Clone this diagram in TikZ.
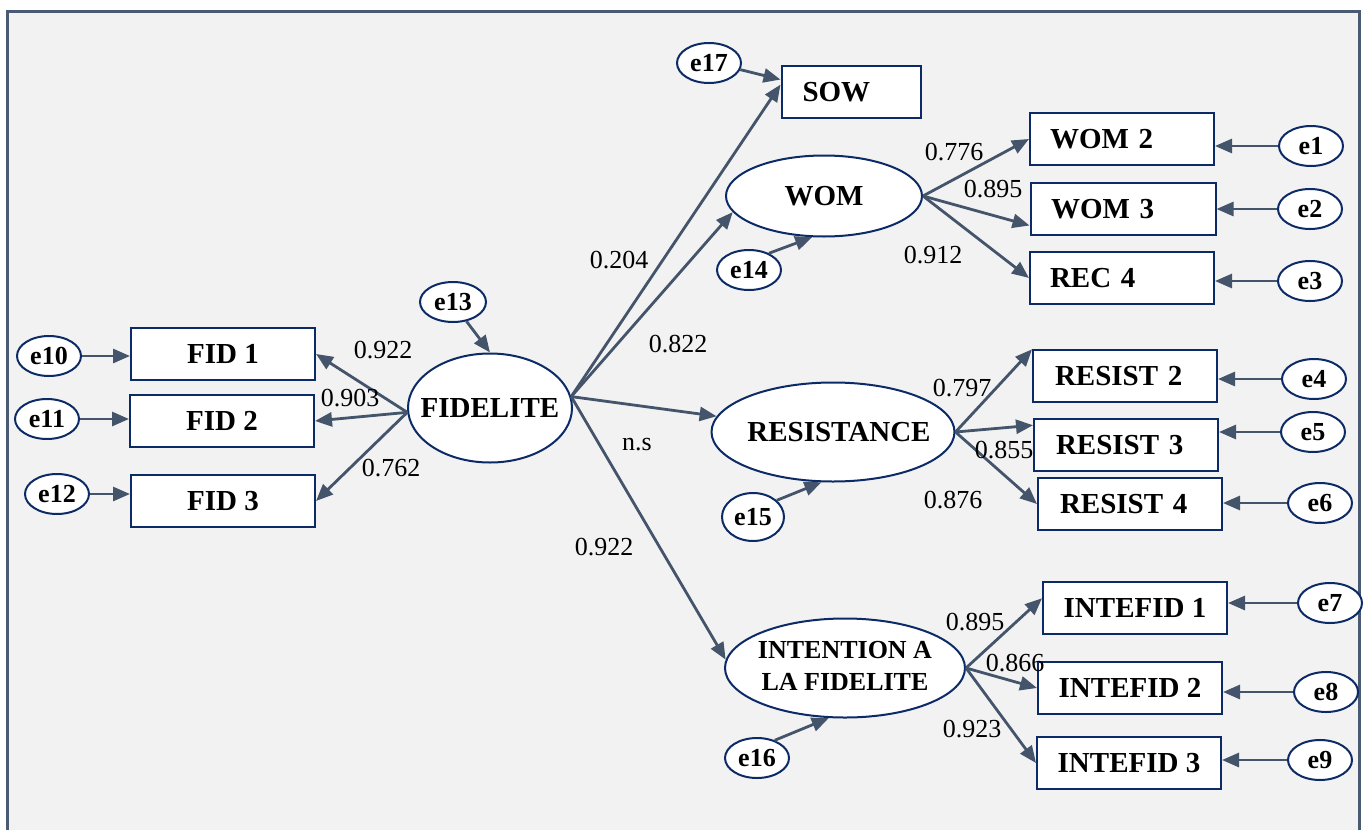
\documentclass[tikz,border=0pt]{standalone}
\usepackage{fontspec}
\setmainfont{Liberation Serif}
\usetikzlibrary{arrows.meta,shapes.geometric}
\definecolor{bgc}{HTML}{F2F2F2}
\definecolor{framec}{HTML}{4A5A73}
\definecolor{ncol}{HTML}{0B2A66}
\definecolor{acol}{HTML}{44546A}
\newcommand{\zw}[1]{\makebox[0pt]{#1}}
\tikzset{
  box/.style={draw=ncol, line width=1pt, fill=white, minimum height=26pt, inner ysep=0pt, font=\fontsize{14.5}{16}\selectfont\bfseries},
  cbox/.style={box, minimum width=92pt, inner xsep=0pt, align=center},
  lbox/.style={box, text width=#1, inner xsep=10pt, align=left},
  lat/.style={draw=ncol, line width=1pt, fill=white, ellipse, inner sep=0pt, font=\fontsize{14.5}{16}\selectfont\bfseries},
  err/.style={draw=ncol, line width=1pt, fill=white, ellipse, inner sep=0pt, minimum width=32pt, minimum height=20pt, font=\fontsize{13}{14}\selectfont\bfseries},
  arr/.style={draw=acol, line width=1.4pt, -{Triangle[length=8.5pt,width=7pt]}},
  lab/.style={font=\fontsize{13}{14}\selectfont, inner sep=0pt}
}
\begin{document}
\begin{tikzpicture}[x=0.5pt,y=-0.5pt]
\useasboundingbox (0,0) rectangle (1365,830);
\fill[white] (0,0) rectangle (1365,830);
\fill[bgc] (7,11) rectangle (1359,830);
\draw[framec, line width=1.5pt] (7,830) -- (7,11) -- (1359,11) -- (1359,830);

% left indicators
\node[cbox] (fid1) at (223,354) {FID 1};
\node[cbox] (fid2) at (222,421) {FID 2};
\node[cbox] (fid3) at (223,501) {FID 3};
\node[err] (e10) at (49,356) {e10};
\node[err] (e11) at (47,419) {e11};
\node[err] (e12) at (57,494) {e12};

% FIDELITE
\node[lat, minimum width=82pt, minimum height=54.5pt] (fid) at (490,408) {\zw{FIDELITE}};
\node[err, minimum width=33pt] (e13) at (453,302) {e13};

% SOW
\node[lbox=48.5pt, inner xsep=10.5pt] (sow) at (851,92) {SOW};
\node[err] (e17) at (709,63) {e17};

% WOM
\node[lat, minimum width=98pt, minimum height=40.5pt] (wom) at (824,196) {\zw{WOM}};
\node[err] (e14) at (749,270) {e14};
\node[lbox=72pt] (wom2) at (1122,139) {WOM 2};
\node[lbox=72pt, minimum width=92.5pt] (wom3) at (1123,209) {WOM 3};
\node[lbox=72pt] (rec4) at (1122,278) {REC 4};
\node[err] (e1) at (1311,146) {e1};
\node[err] (e2) at (1310,209) {e2};
\node[err] (e3) at (1310,281) {e3};

% RESISTANCE
\node[lat, minimum width=121.5pt, minimum height=49.5pt] (res) at (833,432) {\zw{\hspace{6pt}RESISTANCE}};
\node[err, minimum width=31pt, minimum height=24pt] (e15) at (753,517) {e15};
\node[lbox=70pt, inner xsep=11pt] (r2) at (1125,376) {RESIST 2};
\node[lbox=70pt, inner xsep=11pt] (r3) at (1126,445) {RESIST 3};
\node[lbox=70pt, inner xsep=11pt] (r4) at (1130,504) {RESIST 4};
\node[err] (e4) at (1314,379) {e4};
\node[err] (e5) at (1313,432) {e5};
\node[err] (e6) at (1320,503) {e6};

% INTENTION
\node[lat, minimum width=120pt, minimum height=49.5pt, font=\fontsize{13}{16}\selectfont\bfseries] (int) at (845,668) {\zw{\begin{tabular}{@{}c@{}}INTENTION A\\LA FIDELITE\end{tabular}}};
\node[err] (e16) at (757,758) {e16};
\node[cbox] (i1) at (1135,608) {INTEFID 1};
\node[cbox] (i2) at (1130,688) {INTEFID 2};
\node[cbox] (i3) at (1129,763) {INTEFID 3};
\node[err] (e7) at (1330,603) {e7};
\node[err] (e8) at (1326,692) {e8};
\node[err] (e9) at (1320,760) {e9};

% error arrows
\draw[arr] (e10.east) -- (e10.east -| fid1.west);
\draw[arr] (e11.east) -- (e11.east -| fid2.west);
\draw[arr] (e12.east) -- (e12.east -| fid3.west);
\draw[arr] (e13.-55) -- (fid.north);
\draw[arr] (e17.-12) -- (sow.170);
\draw[arr] (e14.40) -- (wom.-106);
\draw[arr] (e15.35) -- (res.-103);
\draw[arr] (e16.45) -- (int.-108);
\draw[arr] (e1.west) -- (e1.west -| wom2.east);
\draw[arr] (e2.west) -- (e2.west -| wom3.east);
\draw[arr] (e3.west) -- (e3.west -| rec4.east);
\draw[arr] (e4.west) -- (e4.west -| r2.east);
\draw[arr] (e5.west) -- (e5.west -| r3.east);
\draw[arr] (e6.west) -- (e6.west -| r4.east);
\draw[arr] (e7.west) -- (e7.west -| i1.east);
\draw[arr] (e8.west) -- (e8.west -| i2.east);
\draw[arr] (e9.west) -- (e9.west -| i3.east);

% FIDELITE loadings
\draw[arr] (fid.183) -- (fid1.east);
\draw[arr] (fid.183) -- (fid2.east);
\draw[arr] (fid.183) -- (fid3.east);

% structural paths
\draw[arr] (fid.8) -- (sow.174);
\draw[arr] (fid.8) -- (wom.190);
\draw[arr] (fid.8) -- (res);
\draw[arr] (fid.8) -- (int.176);

% WOM loadings
\draw[arr] (wom.east) -- (wom2.west);
\draw[arr] (wom.east) -- (wom3.190);
\draw[arr] (wom.east) -- (rec4.west);
% RESISTANCE loadings
\draw[arr] (res.east) -- (r2.164);
\draw[arr] (res.east) -- (r3.168);
\draw[arr] (res.east) -- (r4.west);
% INTENTION loadings
\draw[arr] (int.east) -- (i1.174);
\draw[arr] (int.east) -- (i2.west);
\draw[arr] (int.east) -- (i3.west);

% labels
\node[lab] (l1) at (383,350) {0.922};
\node[lab] (l2) at (350,398) {0.903};
\node[lab] (l3) at (391,468) {0.762};
\node[lab] (l4) at (619,260) {0.204};
\node[lab] (l5) at (678,344) {0.822};
\node[lab] (l6) at (637,445) {n.s};
\node[lab] (l7) at (604,547) {0.922};
\node[lab] (l8) at (954,152) {0.776};
\node[lab] (l9) at (993,189) {0.895};
\node[lab] (l10) at (933,255) {0.912};
\node[lab] (l11) at (962,388) {0.797};
\node[lab] (l12) at (1004,450) {0.855};
\node[lab] (l13) at (953,500) {0.876};
\node[lab] (l14) at (975,622) {0.895};
\node[lab] (l15) at (1015,663) {0.866};
\node[lab] (l16) at (972,729) {0.923};
\end{tikzpicture}
\end{document}
